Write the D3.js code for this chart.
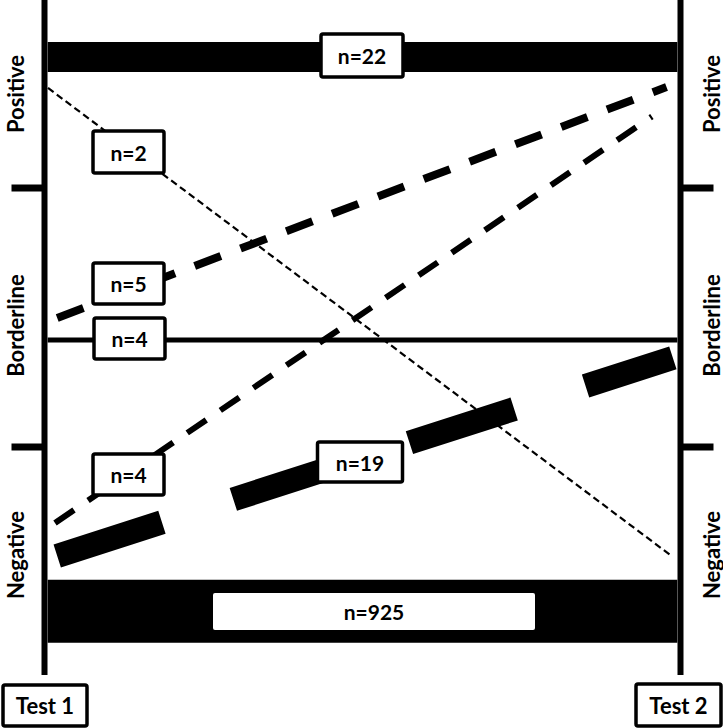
<!DOCTYPE html>
<html>
<head>
<meta charset="utf-8">
<script src="https://cdn.jsdelivr.net/npm/d3@7"></script>
<style>
  html, body { margin: 0; padding: 0; background: #fff; }
  svg { display: block; }
  text { font-family: Lato, "Open Sans", sans-serif; font-weight: bold; fill: #000; }
</style>
</head>
<body>
<div id="chart"></div>
<script>
// ---------- data ----------
const categories = ["Positive", "Borderline", "Negative"];
const tests = ["Test 1", "Test 2"];
// flows between Test 1 category and Test 2 category (levels:
// 0..1 Positive band, 1..2 Borderline band, 2..3 Negative band)
const flowFrom   = ["Positive", "Positive", "Borderline", "Borderline", "Negative", "Negative", "Negative"];
const flowTo     = ["Positive", "Negative", "Positive",   "Borderline", "Positive", "Borderline", "Negative"];
const flowN      = [22, 2, 5, 4, 4, 19, 925];
const fromLevel  = [0.303, 0.468, 1.502, 1.587, 2.333, 2.478, 2.72];
const toLevel    = [0.303, 2.478, 0.463, 1.587, 0.62, 1.656, 2.72];

// ---------- styles / layout ----------
const W = 723, H = 728;
const axisX = [44.5, 680.5];
const axisTop = 0, axisBottom = 675;
const bandEdges = [0, 188, 447, 675];

const flowStyle = [
  { w: 30, dash: null, x0: 0.005, x1: 0.995, label: [362, 55.5, 82, 43] },
  { w: 2.2, dash: "7,4", x0: 0.0055, x1: 0.986, label: [128.5, 152, 71, 42] },
  { w: 8, dash: "28,21", x0: 0.02, x1: 0.978, label: [128.5, 283.5, 71, 41] },
  { w: 5, dash: null, x0: 0.005, x1: 0.995, label: [129.5, 338.5, 71, 41] },
  { w: 6, dash: "23,17", x0: 0.0165, x1: 0.955, label: [128.5, 474.5, 71, 41] },
  { w: 24, dash: "110,75", x0: 0.02, x1: 0.988, label: [360, 462, 85, 40] },
  { w: 63, dash: null, x0: 0.005, x1: 0.995, label: [374, 611.5, 322, 37], noBorder: true }
];

const svg = d3.select("#chart").append("svg").attr("width", W).attr("height", H);

const x = d3.scaleLinear().domain([0, 1]).range(axisX);
const y = d3.scaleLinear().domain([0, 1, 2, 3]).range(bandEdges);
const band = d3.scaleBand().domain(categories).range([0, 3]);

const line = d3.line().x(d => x(d[0])).y(d => y(d[1]));

// flows
flowN.forEach((n, i) => {
  const s = flowStyle[i];
  const pts = [[s.x0, fromLevel[i]], [s.x1, toLevel[i]]];
  svg.append("path")
    .attr("d", line(pts))
    .attr("fill", "none")
    .attr("stroke", "#000")
    .attr("stroke-width", s.w)
    .attr("stroke-linecap", "butt")
    .attr("stroke-dasharray", s.dash);
});

// axes
[0, 1].forEach(t => {
  svg.append("line")
    .attr("x1", x(t)).attr("x2", x(t))
    .attr("y1", axisTop).attr("y2", axisBottom)
    .attr("stroke", "#000").attr("stroke-width", 6);
  [1, 2].forEach(l => {
    const dir = t === 0 ? -1 : 1;
    svg.append("line")
      .attr("x1", x(t)).attr("x2", x(t) + dir * 33)
      .attr("y1", y(l)).attr("y2", y(l))
      .attr("stroke", "#000").attr("stroke-width", 7);
  });
});

// category labels
const labelOffsets = { "Positive": 0, "Borderline": 8, "Negative": -6 };
categories.forEach(c => {
  const cy = y(band(c) + band.bandwidth() / 2) + labelOffsets[c];
  [[15, -90], [711, -90]].forEach(([lx, rot]) => {
    svg.append("text")
      .attr("transform", `translate(${lx},${cy}) rotate(${rot})`)
      .attr("text-anchor", "middle")
      .attr("dominant-baseline", "central")
      .attr("font-size", 22)
      .text(c);
  });
});

// n labels
flowN.forEach((n, i) => {
  const [cx, cy, bw, bh] = flowStyle[i].label;
  svg.append("rect")
    .attr("x", cx - bw / 2).attr("y", cy - bh / 2)
    .attr("width", bw).attr("height", bh)
    .attr("rx", 2)
    .attr("fill", "#fff")
    .attr("stroke", flowStyle[i].noBorder ? "none" : "#000")
    .attr("stroke-width", 3.5);
  svg.append("text")
    .attr("x", cx).attr("y", cy)
    .attr("text-anchor", "middle")
    .attr("dominant-baseline", "central")
    .attr("font-size", 21)
    .text("n=" + n);
});

// test labels
const testBoxes = [[45, 705.5, 84, 41], [678.5, 705, 85, 42]];
tests.forEach((t, i) => {
  const [cx, cy, bw, bh] = testBoxes[i];
  svg.append("rect")
    .attr("x", cx - bw / 2).attr("y", cy - bh / 2)
    .attr("width", bw).attr("height", bh)
    .attr("rx", 2)
    .attr("fill", "#fff").attr("stroke", "#000").attr("stroke-width", 3.5);
  svg.append("text")
    .attr("x", cx).attr("y", cy)
    .attr("text-anchor", "middle")
    .attr("dominant-baseline", "central")
    .attr("font-size", 22)
    .text(t);
});
</script>
</body>
</html>
